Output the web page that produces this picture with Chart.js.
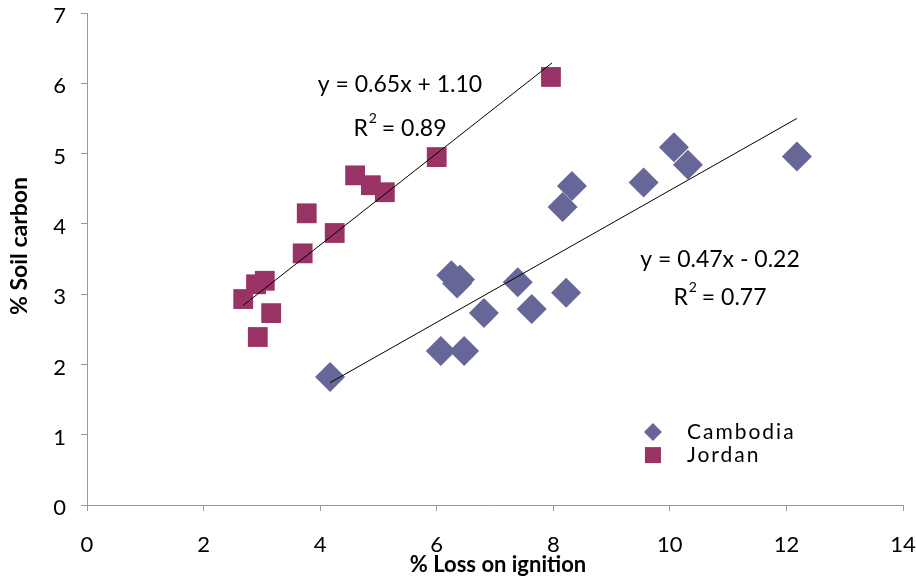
<!DOCTYPE html>
<html>
<head>
<meta charset="utf-8">
<script src="https://cdn.jsdelivr.net/npm/chart.js@4/dist/chart.umd.min.js"></script>
<style>
  html, body { margin: 0; padding: 0; background: #ffffff; }
  #wrap { width: 916px; height: 581px; position: relative; }
</style>
</head>
<body>
<div id="wrap"><canvas id="c" width="916" height="581"></canvas></div>
<script>
// ---- Data ----
const cambodiaLOI = [4.17, 6.07, 6.47, 6.25, 6.35, 6.40, 6.81, 7.39, 7.63, 8.22, 8.16, 8.32, 9.55, 10.07, 10.31, 12.18];
const cambodiaC   = [1.82, 2.19, 2.19, 3.27, 3.15, 3.21, 2.73, 3.17, 2.79, 3.02, 4.24, 4.54, 4.59, 5.09, 4.84, 4.96];

const jordanLOI = [2.68, 2.90, 3.05, 2.93, 3.16, 3.70, 3.77, 4.25, 4.60, 4.87, 5.11, 6.00, 7.96];
const jordanC   = [2.93, 3.14, 3.19, 2.39, 2.73, 3.58, 4.15, 3.87, 4.69, 4.55, 4.45, 4.95, 6.09];

// trendline end points
const jordanTrendX   = [2.68, 7.98];
const jordanTrendY   = [2.84, 6.29];
const cambodiaTrendX = [4.17, 12.18];
const cambodiaTrendY = [1.74, 5.50];

const seriesNames = ['Cambodia', 'Jordan'];
const jordanEqText   = ['y = 0.65x + 1.10', '0.89'];
const cambodiaEqText = ['y = 0.47x - 0.22', '0.77'];
const xTitle = '% Loss on ignition';
const yTitle = '% Soil carbon';

const toPts = (xs, ys) => xs.map((x, i) => ({x: x, y: ys[i]}));

const FONT = 'Lato, "Open Sans", sans-serif';
const CAMBODIA_COLOR = '#666699';
const JORDAN_COLOR = '#993366';

// ---- Annotation + legend + axis-title plugin ----
const annotationPlugin = {
  id: 'annot',
  afterDatasetsDraw(chart) {
    const ctx = chart.ctx;
    const xs = chart.scales.x, ys = chart.scales.y;
    ctx.save();
    ctx.fillStyle = '#000';
    ctx.textBaseline = 'middle';
    const drawEq = (lines, cx, cy1, cy2) => {
      ctx.font = '23px ' + FONT;
      ctx.textAlign = 'center';
      ctx.fillText(lines[0], cx, cy1);
      const rest = ' = ' + lines[1];
      const wR = ctx.measureText('R').width;
      ctx.font = '14px ' + FONT;
      const w2 = ctx.measureText('2').width;
      ctx.font = '23px ' + FONT;
      const wRest = ctx.measureText(rest).width;
      const total = wR + w2 + wRest;
      const x0 = cx - total / 2;
      ctx.textAlign = 'left';
      ctx.fillText('R', x0, cy2);
      ctx.font = '14px ' + FONT;
      ctx.fillText('2', x0 + wR + 1, cy2 - 11);
      ctx.font = '23px ' + FONT;
      ctx.fillText(rest, x0 + wR + w2, cy2);
    };
    drawEq(jordanEqText, xs.getPixelForValue(5.37), ys.getPixelForValue(5.975), ys.getPixelForValue(5.349));
    drawEq(cambodiaEqText, xs.getPixelForValue(10.86), ys.getPixelForValue(3.486), ys.getPixelForValue(2.945));

    // legend
    const lx = xs.getPixelForValue(9.71);
    const ly1 = ys.getPixelForValue(1.04);
    const ly2 = ys.getPixelForValue(0.71);
    const dsC = chart.data.datasets[0], dsJ = chart.data.datasets[1];
    ctx.fillStyle = dsC.backgroundColor;
    ctx.beginPath();
    ctx.moveTo(lx - 9, ly1); ctx.lineTo(lx, ly1 - 9); ctx.lineTo(lx + 9, ly1); ctx.lineTo(lx, ly1 + 9); ctx.closePath();
    ctx.fill();
    ctx.fillStyle = dsJ.backgroundColor;
    ctx.fillRect(lx - 8, ly2 - 8, 16, 16);
    ctx.fillStyle = '#000';
    ctx.font = '21px ' + FONT;
    ctx.textAlign = 'left';
    try { ctx.letterSpacing = '2px'; } catch (e) {}
    ctx.fillText(dsC.label, lx + 34, ly1);
    ctx.fillText(dsJ.label, lx + 34, ly2);
    try { ctx.letterSpacing = '0px'; } catch (e) {}

    // axis titles
    ctx.font = 'bold 22px ' + FONT;
    ctx.textAlign = 'center';
    ctx.fillText(xTitle, 498, 565);
    ctx.save();
    ctx.translate(20, 246);
    ctx.rotate(-Math.PI / 2);
    ctx.font = 'bold 23px ' + FONT;
    ctx.fillText(yTitle, 0, 0);
    ctx.restore();
    ctx.restore();
  }
};

new Chart(document.getElementById('c'), {
  type: 'scatter',
  data: {
    datasets: [
      {
        label: seriesNames[0],
        data: toPts(cambodiaLOI, cambodiaC),
        pointStyle: 'rectRot',
        pointRadius: 15,
        pointHoverRadius: 15,
        backgroundColor: CAMBODIA_COLOR,
        borderColor: CAMBODIA_COLOR,
        borderWidth: 0,
        order: 2
      },
      {
        label: seriesNames[1],
        data: toPts(jordanLOI, jordanC),
        pointStyle: 'rect',
        pointRadius: 14,
        pointHoverRadius: 14,
        backgroundColor: JORDAN_COLOR,
        borderColor: JORDAN_COLOR,
        borderWidth: 0,
        order: 2
      },
      {
        label: 'jordanTrend',
        type: 'line',
        data: toPts(jordanTrendX, jordanTrendY),
        showLine: true,
        borderColor: '#000',
        borderWidth: 1,
        pointRadius: 0,
        fill: false,
        order: 1
      },
      {
        label: 'cambodiaTrend',
        type: 'line',
        data: toPts(cambodiaTrendX, cambodiaTrendY),
        showLine: true,
        borderColor: '#000',
        borderWidth: 1,
        pointRadius: 0,
        fill: false,
        order: 1
      }
    ]
  },
  options: {
    responsive: false,
    animation: false,
    devicePixelRatio: 1,
    layout: { autoPadding: false, padding: { left: 0, right: 13, top: 13, bottom: 0 } },
    plugins: {
      legend: { display: false },
      tooltip: { enabled: false }
    },
    scales: {
      x: {
        type: 'linear',
        min: 0, max: 14,
        ticks: { stepSize: 2, color: '#000', font: { family: FONT, size: 22 }, padding: 21, maxRotation: 0 },
        grid: { display: true, drawOnChartArea: false, drawTicks: true, tickLength: 6, color: '#999' },
        border: { display: true, color: '#999' },
        title: { display: false },
        afterFit(s) { s.height = 76; s.paddingLeft = 0; s.paddingRight = 0; s.paddingTop = 0; s.paddingBottom = 0; }
      },
      y: {
        type: 'linear',
        min: 0, max: 7,
        ticks: { stepSize: 1, color: '#000', font: { family: FONT, size: 22 }, padding: 15, labelOffset: 3 },
        grid: { display: true, drawOnChartArea: false, drawTicks: true, tickLength: 6, color: '#999' },
        border: { display: true, color: '#999' },
        title: { display: false },
        afterFit(s) { s.width = 87; s.paddingLeft = 0; s.paddingRight = 0; s.paddingTop = 0; s.paddingBottom = 0; }
      }
    }
  },
  plugins: [annotationPlugin]
});
</script>
</body>
</html>
